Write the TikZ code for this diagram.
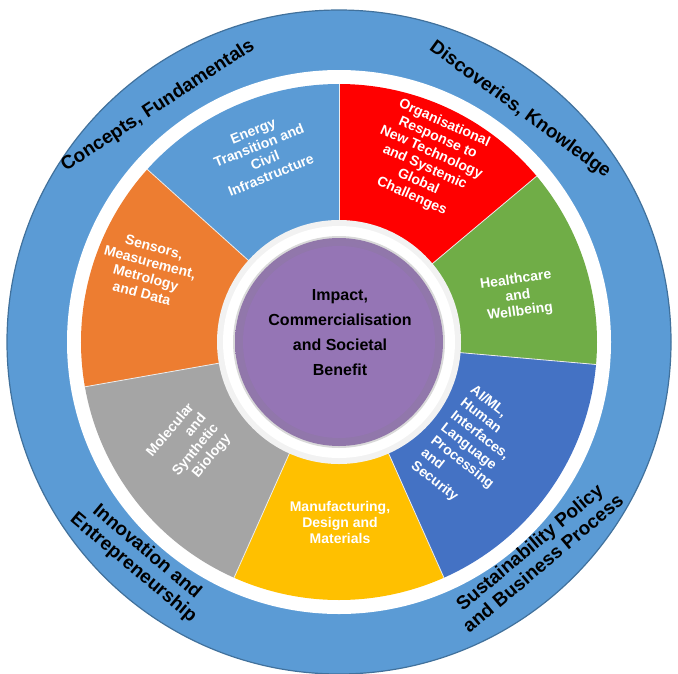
\documentclass[tikz,border=0pt]{standalone}
\usepackage{fontspec}
\setmainfont{Liberation Sans}
\begin{document}
\begin{tikzpicture}[x=1pt,y=-1pt,
  sect/.style={font=\bfseries\fontsize{14}{16}\selectfont, text=white, align=center},
  ringtxt/.style={font=\bfseries\fontsize{19}{21}\selectfont, text=black, align=center}]
\definecolor{ringblue}{HTML}{5B9BD5}
\definecolor{ringedge}{HTML}{41719C}
\definecolor{cgreen}{HTML}{70AD47}
\definecolor{cai}{HTML}{4472C4}
\definecolor{cyel}{HTML}{FFC000}
\definecolor{cgray}{HTML}{A5A5A5}
\definecolor{corange}{HTML}{ED7D31}
\definecolor{cpurple}{HTML}{9575B5}
\useasboundingbox (0,0) rectangle (678,673);
\coordinate (c) at (339,342);
\fill[ringblue, draw=ringedge, line width=1.2pt] (c) circle[radius=332];
\fill[white] (c) circle[radius=272];
\foreach \a/\b/\col in {-5/40/cgreen,40/90/red,90/138/ringblue,138/190/corange,190/246/cgray,246/294/cyel,294/355/cai}{
  \fill[\col] (c) -- ++(-\a:258) arc[start angle=-\a, end angle=-\b, radius=258] -- cycle;
}
\foreach \a in {-5,40,90,138,190,246,294}{
  \draw[white!85!gray, line width=0.8pt] (c) -- ++(-\a:258);
}
\fill[white!90!gray] (c) circle[radius=122];
\fill[white] (c) circle[radius=116];
\fill[white!70!gray] (c) circle[radius=106];
\shade[inner color=cpurple, outer color=cpurple!80!gray] (c) circle[radius=104];
\fill[cpurple] (c) circle[radius=96];
\node[font=\bfseries\fontsize{16}{25}\selectfont, align=center] (core) at (340,333) {Impact,\\Commercialisation\\and Societal\\Benefit};
\node[sect, rotate=22] (energy) at (262,153) {Energy\\Transition and\\Civil\\Infrastructure};
\node[sect, rotate=-24] (org) at (428,160) {Organisational\\Response to\\New Technology\\and Systemic\\Global\\Challenges};
\node[sect, rotate=8] (health) at (518,296) {Healthcare\\and\\Wellbeing};
\node[sect, rotate=-38, align=left] (ai) at (472,450) {AI/ML,\\Human\\Interfaces,\\Language\\Processing\\and\\Security};
\node[sect] (manu) at (340,522) {Manufacturing,\\Design and\\Materials};
\node[sect, rotate=50, align=right] (mol) at (189,446) {Molecular\\and\\Synthetic\\Biology};
\node[sect, rotate=-15] (sens) at (148,270) {Sensors,\\Measurement,\\Metrology\\and Data};
\node[ringtxt, rotate=33] (concepts) at (158,106) {Concepts, Fundamentals};
\node[ringtxt, rotate=-36] (disc) at (520,110) {Discoveries, Knowledge};
\node[ringtxt, rotate=-40] (innov) at (140,560) {Innovation and\\Entrepreneurship};
\node[ringtxt, rotate=40] (sust) at (536,555) {Sustainability Policy\\and Business Process};
\end{tikzpicture}
\end{document}
